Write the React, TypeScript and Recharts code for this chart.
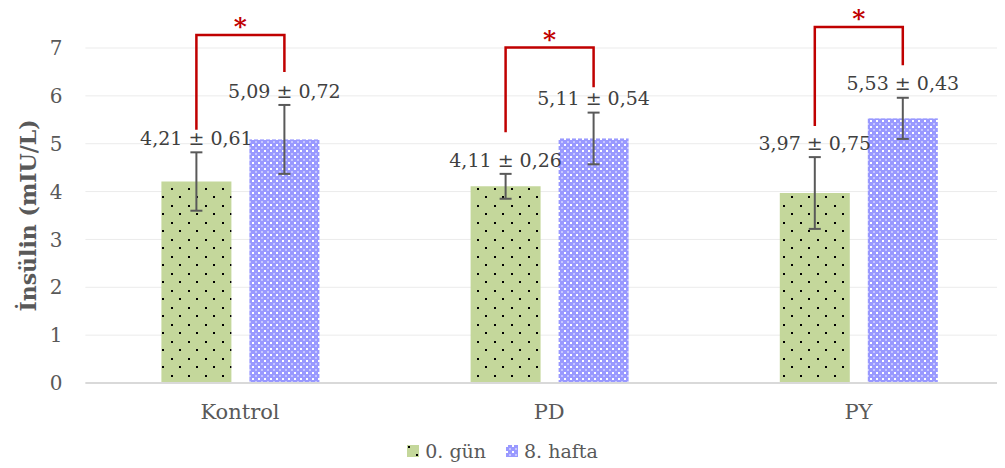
import { Bar, BarChart, CartesianGrid, ErrorBar, LabelList, XAxis, YAxis } from 'recharts';

const groups = ['Kontrol', 'PD', 'PY'];
const day0 = [4.21, 4.11, 3.97];
const day0Sd = [0.61, 0.26, 0.75];
const week8 = [5.09, 5.11, 5.53];
const week8Sd = [0.72, 0.54, 0.43];
const yTicks = [0, 1, 2, 3, 4, 5, 6, 7];

// significance brackets, in axis units: horizontal bar, left leg end, right leg end
const sigTop = [7.27, 7.01, 7.44];
const sigLeft = [5.29, 5.24, 5.37];
const sigRight = [6.5, 6.18, 6.64];

const data = groups.map((group, i) => ({
  group,
  day0: day0[i],
  day0Sd: day0Sd[i],
  week8: week8[i],
  week8Sd: week8Sd[i],
  sigTop: sigTop[i],
  sigLeft: sigLeft[i],
  sigRight: sigRight[i],
}));

const FONT = '"DejaVu Serif", "Liberation Serif", serif';
const TEXT = '#595959';
const LABEL = '#404040';
const SIG = '#c00000';
const BAR_SIZE = 70;
const BAR_GAP = 18;

const fmt = (v: number) => v.toFixed(2).replace('.', ',');

function Patterns({ suffix = '' }: { suffix?: string }) {
  return (
    <defs>
      <pattern id={`day0Fill${suffix}`} width={17} height={17} patternUnits="userSpaceOnUse">
        <rect width={17} height={17} fill="#c4d79b" />
        <rect x={1} y={1} width={2} height={2} fill="#000" />
        <rect x={9} y={9} width={2} height={2} fill="#000" />
      </pattern>
      <pattern id={`week8Fill${suffix}`} width={6} height={6} patternUnits="userSpaceOnUse">
        <rect width={6} height={6} fill="#9999ff" />
        <rect x={0} y={0} width={2} height={2} fill="#ffffff" />
        <rect x={3} y={3} width={2} height={2} fill="#c6c6ff" />
      </pattern>
    </defs>
  );
}

// blue bar plus the red bracket joining it to the green bar of the same group
function Week8Bar(props: any) {
  const { x, y, width, height, payload } = props;
  const unit = height / payload.week8;
  const base = y + height;
  const py = (v: number) => base - v * unit;
  const rx = x + width / 2;
  const lx = rx - width - BAR_GAP;
  const top = py(payload.sigTop);
  return (
    <g>
      <rect x={x} y={y} width={width} height={height} fill="url(#week8Fill)" />
      <path
        d={`M${lx},${py(payload.sigLeft)}V${top}H${rx}V${py(payload.sigRight)}`}
        fill="none"
        stroke={SIG}
        strokeWidth={2.5}
      />
      <text x={(lx + rx) / 2} y={top} textAnchor="middle" fill={SIG} fontSize={25} fontWeight="bold" fontFamily={FONT}>
        *
      </text>
    </g>
  );
}

function valueLabel(sd: number[]) {
  return (props: any) => {
    const vb = props.viewBox ?? props;
    const { x, y, width, height } = vb;
    const i = props.index;
    const v = Number(props.value);
    const errTop = y - (sd[i] * height) / v;
    return (
      <text
        x={x + width / 2}
        y={errTop - 14}
        dy="0.35em"
        textAnchor="middle"
        fill={LABEL}
        fontSize={19}
        fontFamily={FONT}
      >
        {`${fmt(v)} ± ${fmt(sd[i])}`}
      </text>
    );
  };
}

function YTitle(props: any) {
  const vb = props.viewBox;
  const cx = vb.x + 28;
  const cy = vb.y + vb.height / 2;
  return (
    <text
      x={cx}
      y={cy}
      dy="0.35em"
      transform={`rotate(-90 ${cx} ${cy})`}
      textAnchor="middle"
      fill={TEXT}
      fontSize={22}
      fontWeight="bold"
      fontFamily={FONT}
    >
      İnsülin (mIU/L)
    </text>
  );
}

function LegendSwatch({ fill }: { fill: string }) {
  return (
    <svg width={12} height={12} style={{ display: 'block' }}>
      <Patterns suffix="Lg" />
      <rect width={12} height={12} fill={fill} />
    </svg>
  );
}

export default function App() {
  return (
    <div
      style={{
        position: 'relative',
        margin: '-8px 0 0 -8px',
        width: 1005,
        height: 468,
        overflow: 'hidden',
        fontFamily: FONT,
      }}
    >
      <BarChart
        width={1018}
        height={438}
        data={data}
        margin={{ top: 48, right: 5, bottom: 15, left: 0 }}
        barSize={BAR_SIZE}
        barGap={BAR_GAP}
      >
        <Patterns />
        <CartesianGrid vertical={false} stroke="#ebebeb" />
        <XAxis
          dataKey="group"
          height={40}
          tickLine={false}
          tickSize={0}
          tickMargin={21}
          axisLine={{ stroke: '#d9d9d9', strokeWidth: 2 }}
          tick={{ fill: TEXT, fontSize: 21, fontFamily: FONT }}
        />
        <YAxis
          width={85.4}
          domain={[0, 7]}
          ticks={yTicks}
          axisLine={false}
          tickLine={false}
          tickSize={0}
          tickMargin={23}
          tick={{ fill: TEXT, fontSize: 20, fontFamily: FONT }}
          label={YTitle}
        />
        <Bar dataKey="day0" fill="url(#day0Fill)" isAnimationActive={false}>
          <ErrorBar dataKey="day0Sd" width={6} stroke="#595959" strokeWidth={2} />
          <LabelList dataKey="day0" content={valueLabel(day0Sd)} />
        </Bar>
        <Bar dataKey="week8" fill="url(#week8Fill)" shape={Week8Bar} isAnimationActive={false}>
          <ErrorBar dataKey="week8Sd" width={6} stroke="#595959" strokeWidth={2} />
          <LabelList dataKey="week8" content={valueLabel(week8Sd)} />
        </Bar>
      </BarChart>
      <div
        style={{
          position: 'absolute',
          left: 0,
          top: 438,
          width: 1005,
          height: 26,
          display: 'flex',
          justifyContent: 'center',
          alignItems: 'center',
          fontSize: 19,
          color: TEXT,
        }}
      >
        <LegendSwatch fill="url(#day0FillLg)" />
        <span style={{ marginLeft: 6, marginRight: 20 }}>0. gün</span>
        <LegendSwatch fill="url(#week8FillLg)" />
        <span style={{ marginLeft: 6 }}>8. hafta</span>
      </div>
    </div>
  );
}
